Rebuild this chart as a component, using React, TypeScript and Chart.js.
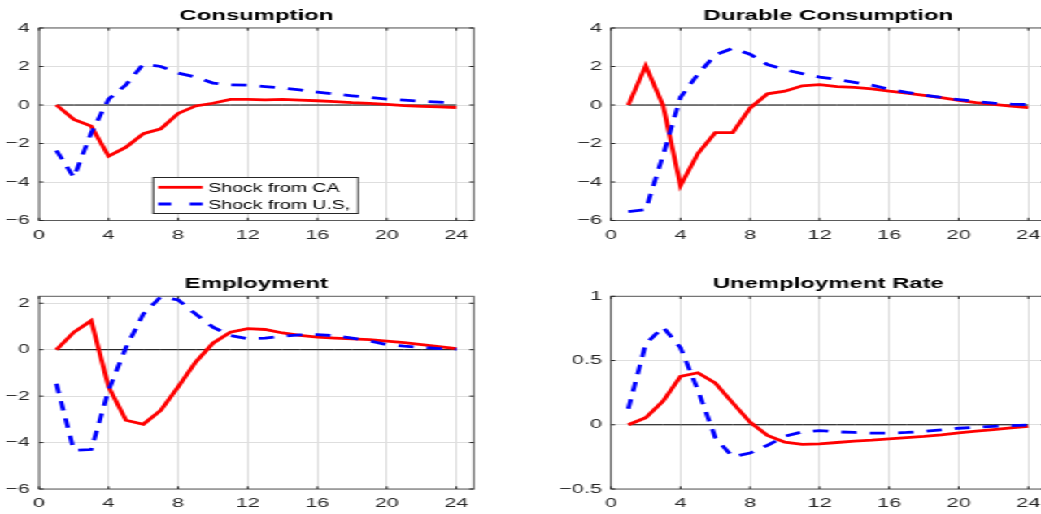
import React, { useEffect, useRef } from "react";
import { Chart, registerables } from "chart.js";

Chart.register(...registerables);

// ---------------- data ----------------
const periods = [1, 2, 3, 4, 5, 6, 7, 8, 9, 10, 11, 12, 13, 14, 15, 16, 17, 18, 19, 20, 21, 22, 23, 24];
const zeroLine = [0, 0, 0, 0, 0, 0, 0, 0, 0, 0, 0, 0, 0, 0, 0, 0, 0, 0, 0, 0, 0, 0, 0, 0];
const xTicks = [0, 4, 8, 12, 16, 20, 24];

const seriesLabels = ["Shock from CA", "Shock from U.S,"];
const titles = ["Consumption", "Durable Consumption", "Employment", "Unemployment Rate"];

const consumptionCA = [0, -0.75, -1.1, -2.66, -2.19, -1.49, -1.24, -0.44, -0.05, 0.09, 0.29, 0.29, 0.27, 0.29, 0.25, 0.22, 0.18, 0.12, 0.08, 0.03, -0.03, -0.07, -0.1, -0.13];
const consumptionUS = [-2.36, -3.76, -1.45, 0.3, 1.05, 2.13, 2.0, 1.66, 1.45, 1.14, 1.05, 1.03, 0.95, 0.88, 0.78, 0.67, 0.57, 0.48, 0.4, 0.31, 0.25, 0.2, 0.15, 0.1];

const durableCA = [0, 2.03, -0.03, -4.18, -2.52, -1.43, -1.43, -0.16, 0.58, 0.72, 1.0, 1.06, 0.95, 0.92, 0.84, 0.72, 0.62, 0.5, 0.38, 0.24, 0.12, 0.03, -0.06, -0.14];
const durableUS = [-5.54, -5.44, -2.6, 0.4, 1.6, 2.6, 2.95, 2.64, 2.1, 1.83, 1.63, 1.45, 1.33, 1.18, 1.03, 0.82, 0.66, 0.52, 0.39, 0.28, 0.18, 0.1, 0.05, 0.02];

const employmentCA = [0, 0.75, 1.25, -1.6, -3.04, -3.21, -2.61, -1.6, -0.54, 0.28, 0.75, 0.91, 0.87, 0.72, 0.62, 0.54, 0.5, 0.47, 0.43, 0.37, 0.3, 0.22, 0.13, 0.05];
const employmentUS = [-1.47, -4.33, -4.3, -1.75, 0.1, 1.54, 2.28, 2.14, 1.54, 0.97, 0.61, 0.47, 0.5, 0.58, 0.64, 0.65, 0.6, 0.5, 0.38, 0.22, 0.15, 0.1, 0.05, 0.02];

const unemploymentCA = [0, 0.055, 0.185, 0.377, 0.405, 0.325, 0.17, 0.02, -0.083, -0.135, -0.153, -0.148, -0.138, -0.128, -0.12, -0.11, -0.1, -0.09, -0.078, -0.063, -0.05, -0.037, -0.025, -0.013];
const unemploymentUS = [0.125, 0.63, 0.76, 0.6, 0.27, -0.1, -0.25, -0.22, -0.16, -0.09, -0.055, -0.045, -0.055, -0.06, -0.065, -0.065, -0.06, -0.052, -0.04, -0.027, -0.02, -0.012, -0.006, -0.002];

const yTicksConsumption = [-6, -4, -2, 0, 2, 4];
const yTicksDurable = [-6, -4, -2, 0, 2, 4];
const yTicksEmployment = [-6, -4, -2, 0, 2];
const yTicksUnemployment = [-0.5, 0, 0.5, 1];

// ---------------- styling ----------------
const FONT = "'Liberation Sans', Arial, Helvetica, sans-serif";
const BASE_W = 640;
const STRETCH = 1041 / BASE_W;
const RED = "#ff0000";
const BLUE = "#0000ff";
const GRID = "#dedede";
const TEXT = "#262626";
const DASH = [9.5, 8];

type PanelCfg = {
  x: number; y: number; w: number; h: number;
  title: string;
  ca: number[]; us: number[];
  yTicks: number[]; yMin: number; yMax: number;
  yAxisW: number;
  pad: { left: number; right: number; top: number; bottom: number };
  titlePad: { top: number; bottom: number };
  legend: boolean;
};

const toXY = (vals: number[]) => periods.map((p, i) => ({ x: p, y: vals[i] }));
const fmtTick = (v: any) => String(v).replace("-", "\u2212");

const axesBoxPlugin = {
  id: "axesBox",
  beforeDatasetsDraw(chart: any) {
    const { ctx, chartArea: a, scales } = chart;
    const xs = scales.x;
    const ys = scales.y;
    ctx.save();
    ctx.strokeStyle = "#5a5a5a";
    ctx.lineWidth = 1;
    ctx.strokeRect(a.left, a.top, a.right - a.left, a.bottom - a.top);
    ctx.strokeStyle = TEXT;
    const tl = 2.7;
    ctx.beginPath();
    for (const t of xs.ticks) {
      const px = xs.getPixelForValue(t.value);
      ctx.moveTo(px, a.bottom);
      ctx.lineTo(px, a.bottom - tl);
      ctx.moveTo(px, a.top);
      ctx.lineTo(px, a.top + tl);
    }
    for (const t of ys.ticks) {
      const py = ys.getPixelForValue(t.value);
      ctx.moveTo(a.left, py);
      ctx.lineTo(a.left + tl, py);
      ctx.moveTo(a.right, py);
      ctx.lineTo(a.right - tl, py);
    }
    ctx.stroke();
    ctx.restore();
  },
};

const insideLegendPlugin = {
  id: "insideLegend",
  afterDatasetsDraw(chart: any, _args: any, opts: any) {
    if (!opts || !opts.show) return;
    const { ctx, chartArea: a } = chart;
    const bx = a.left + 70.2;
    const by = a.top + 149.5;
    const bw = 126;
    const bh = 36;
    ctx.save();
    ctx.fillStyle = "#ffffff";
    ctx.fillRect(bx, by, bw, bh);
    ctx.strokeStyle = TEXT;
    ctx.lineWidth = 1;
    ctx.strokeRect(bx, by, bw, bh);
    (opts.items as any[]).forEach((it, i) => {
      const cy = by + 9.8 + i * 16.7;
      ctx.beginPath();
      ctx.setLineDash(it.dash);
      ctx.strokeStyle = it.color;
      ctx.lineWidth = 2.8;
      ctx.moveTo(bx + 3.1, cy);
      ctx.lineTo(bx + 30.4, cy);
      ctx.stroke();
      ctx.setLineDash([]);
      ctx.fillStyle = "#000000";
      ctx.font = `12px ${FONT}`;
      ctx.textBaseline = "middle";
      ctx.textAlign = "left";
      ctx.fillText(it.label, bx + 33.8, cy + 1.5);
    });
    ctx.restore();
  },
};

function Panel({ cfg }: { cfg: PanelCfg }) {
  const ref = useRef<HTMLCanvasElement>(null);
  useEffect(() => {
    const canvas = ref.current;
    if (!canvas) return;
    const tickFont = { family: FONT, size: 13.3 };
    const chart = new Chart(canvas, {
      type: "line",
      data: {
        datasets: [
          {
            label: seriesLabels[1],
            data: toXY(cfg.us),
            borderColor: BLUE,
            borderWidth: 2.8,
            borderDash: DASH,
            pointRadius: 0,
            fill: false,
            tension: 0,
            order: 0,
          },
          {
            label: seriesLabels[0],
            data: toXY(cfg.ca),
            borderColor: RED,
            borderWidth: 2.8,
            pointRadius: 0,
            fill: false,
            tension: 0,
            order: 1,
          },
          {
            label: "zero",
            data: toXY(zeroLine),
            borderColor: "#000000",
            borderWidth: 1,
            pointRadius: 0,
            fill: false,
            tension: 0,
            order: 2,
          },
        ],
      } as any,
      options: {
        animation: false,
        responsive: false,
        maintainAspectRatio: false,
        devicePixelRatio: 1,
        events: [],
        layout: { padding: cfg.pad },
        plugins: {
          legend: { display: false },
          tooltip: { enabled: false },
          title: {
            display: true,
            text: cfg.title,
            fullSize: false,
            color: "#000000",
            font: { family: FONT, size: 14.7, weight: "bold" },
            padding: cfg.titlePad,
          },
          insideLegend: {
            show: cfg.legend,
            items: [
              { label: seriesLabels[0], color: RED, dash: [] },
              { label: seriesLabels[1], color: BLUE, dash: [8, 11.3] },
            ],
          },
        } as any,
        scales: {
          x: {
            type: "linear",
            min: 0,
            max: 25,
            afterBuildTicks: (s: any) => {
              s.ticks = xTicks.map((v) => ({ value: v }));
            },
            afterFit: (s: any) => {
              s.height = 24;
            },
            grid: { color: GRID, lineWidth: 1, drawTicks: false },
            border: { display: false },
            ticks: { font: tickFont, color: TEXT, padding: 6.8, maxRotation: 0, autoSkip: false, callback: fmtTick },
          },
          y: {
            type: "linear",
            min: cfg.yMin,
            max: cfg.yMax,
            afterBuildTicks: (s: any) => {
              s.ticks = cfg.yTicks.map((v) => ({ value: v }));
            },
            afterFit: (s: any) => {
              s.width = cfg.yAxisW;
            },
            grid: { color: GRID, lineWidth: 1, drawTicks: false },
            border: { display: false },
            ticks: { font: tickFont, color: TEXT, padding: 5.5, autoSkip: false, callback: fmtTick },
          },
        },
      } as any,
      plugins: [axesBoxPlugin, insideLegendPlugin] as any,
    });
    return () => chart.destroy();
  }, [cfg]);
  return (
    <canvas
      ref={ref}
      width={cfg.w}
      height={cfg.h}
      style={{ position: "absolute", left: cfg.x, top: cfg.y, width: cfg.w, height: cfg.h }}
    />
  );
}

const panels: PanelCfg[] = [
  {
    x: 0, y: 0, w: 320, h: 257, title: titles[0], ca: consumptionCA, us: consumptionUS,
    yTicks: yTicksConsumption, yMin: -6, yMax: 4, yAxisW: 24,
    pad: { left: 0, right: 28.7, top: 0, bottom: 12.5 }, titlePad: { top: 6.7, bottom: 3.66 }, legend: true,
  },
  {
    x: 320, y: 0, w: 340, h: 257, title: titles[1], ca: durableCA, us: durableUS,
    yTicks: yTicksDurable, yMin: -6, yMax: 4, yAxisW: 44,
    pad: { left: 11.6, right: 17.1, top: 0, bottom: 12.5 }, titlePad: { top: 6.7, bottom: 3.66 }, legend: false,
  },
  {
    x: 0, y: 257, w: 320, h: 257, title: titles[2], ca: employmentCA, us: employmentUS,
    yTicks: yTicksEmployment, yMin: -6, yMax: 2.3, yAxisW: 24,
    pad: { left: 0, right: 28.7, top: 0, bottom: 1 }, titlePad: { top: 17.9, bottom: 3.76 }, legend: false,
  },
  {
    x: 320, y: 257, w: 340, h: 257, title: titles[3], ca: unemploymentCA, us: unemploymentUS,
    yTicks: yTicksUnemployment, yMin: -0.5, yMax: 1, yAxisW: 44,
    pad: { left: 11.6, right: 17.1, top: 0, bottom: 1 }, titlePad: { top: 17.9, bottom: 3.76 }, legend: false,
  },
];

export default function App() {
  return (
    <div
      style={{
        position: "fixed",
        left: 0,
        top: 0,
        width: 1041,
        height: 514,
        overflow: "hidden",
        background: "#ffffff",
      }}
    >
      <div
        style={{
          position: "absolute",
          left: 0,
          top: 0,
          width: BASE_W,
          height: 514,
          transform: `scaleX(${STRETCH})`,
          transformOrigin: "0 0",
        }}
      >
        {panels.map((p, i) => (
          <Panel key={i} cfg={p} />
        ))}
      </div>
    </div>
  );
}
